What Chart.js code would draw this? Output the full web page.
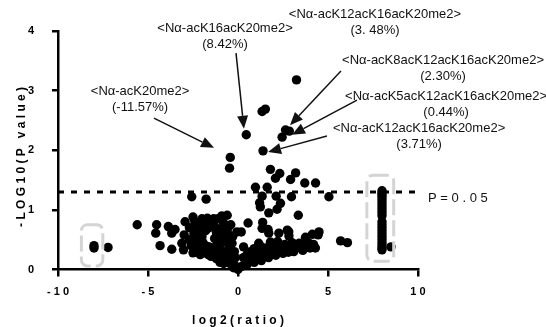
<!DOCTYPE html>
<html>
<head>
<meta charset="utf-8">
<script src="https://cdn.jsdelivr.net/npm/chart.js@4.4.1/dist/chart.umd.min.js"></script>
<style>
  html, body { margin: 0; padding: 0; background: #fff; }
  canvas { display: block; }
</style>
</head>
<body>
<canvas id="chart" width="546" height="327"></canvas>
<script>
// [log2(ratio), -log10(p)]
const significant = [
  [3.25, 3.18], [1.34, 2.65], [1.52, 2.69], [0.46, 2.26], [2.64, 2.34], [2.45, 2.22],
  [2.85, 2.32], [1.39, 1.99], [-0.43, 1.88], [-0.47, 1.70], [1.80, 1.68], [2.32, 1.61],
  [2.08, 1.53], [3.20, 1.62], [2.92, 1.51], [0.97, 1.38], [1.62, 1.38], [3.71, 1.45], [4.31, 1.45]
];
const nearCutoff = [
  [-2.57, 1.22], [-1.77, 1.18], [1.34, 1.23], [2.12, 1.23], [2.97, 1.22], [5.05, 1.22],
  [1.24, 1.05], [1.20, 1.12], [1.71, 0.95], [2.17, 1.01], [2.36, 1.11], [3.35, 0.91]
];
const leftScatter = [
  [-8.0, 0.40], [-8.0, 0.36], [-7.22, 0.37], [-5.6, 0.75], [-4.52, 0.75], [-4.57, 0.61],
  [-4.33, 0.40], [-3.87, 0.72], [-3.5, 0.67], [-3.68, 0.61], [-3.68, 0.34], [-3.12, 0.44],
  [-3.03, 0.33], [-2.94, 0.80], [-2.99, 0.58]
];
const leftCluster = [
  [-2.5, 0.88], [-2.4, 0.80], [-2.3, 0.70], [-2.45, 0.60], [-2.3, 0.50], [-2.4, 0.42], [-2.35, 0.33], [-2.5, 0.28],
  [-2.0, 0.85], [-1.9, 0.75], [-2.1, 0.65], [-2.0, 0.55], [-1.95, 0.45], [-2.05, 0.35], [-1.9, 0.28],
  [-1.7, 0.86], [-1.5, 0.80], [-1.6, 0.70], [-1.3, 0.72], [-1.2, 0.62], [-1.6, 0.38], [-1.4, 0.30],
  [-1.5, 0.22], [-1.2, 0.40], [-1.1, 0.85], [-0.9, 0.90], [-0.8, 0.78], [-1.0, 0.68], [-0.7, 0.55],
  [-0.9, 0.45], [-1.0, 0.33], [-0.8, 0.25], [-1.1, 0.20], [-0.6, 0.91], [-0.06, 0.63], [-0.6, 0.48],
  [-0.5, 0.38], [-0.7, 0.30], [-0.4, 0.25], [-0.6, 0.18], [-0.3, 0.15], [-0.45, 0.10], [-0.2, 0.08],
  [-0.1, 0.04], [0.0, 0.0], [-0.25, 0.03], [-0.33, 0.44],
  [-2.2, 0.78], [-2.2, 0.60], [-2.2, 0.40], [-1.8, 0.65], [-1.8, 0.40], [-1.8, 0.32], [-1.3, 0.52],
  [-1.1, 0.55], [-1.3, 0.25], [-1.35, 0.85], [-0.75, 0.65], [-0.5, 0.58], [-0.4, 0.75], [-0.3, 0.55],
  [-0.2, 0.30], [-0.15, 0.20], [-1.0, 0.12], [-0.8, 0.10], [-2.7, 0.70], [-2.7, 0.50], [-2.6, 0.40],
  [-1.65, 0.25], [-1.2, 0.18], [-0.55, 0.70], [-2.1, 0.25]
];
const rightMiddle = [
  [0.56, 0.78], [1.37, 0.79], [0.18, 0.63], [1.34, 0.69], [1.67, 0.67], [1.71, 0.61], [2.27, 0.61],
  [2.82, 0.63], [2.74, 0.66], [2.83, 0.56], [3.75, 0.54], [4.13, 0.59], [4.5, 0.63], [4.45, 0.58],
  [5.7, 0.48], [6.08, 0.45], [0.31, 0.38], [1.15, 0.44]
];
const rightBand = [
  [0.2, 0.05], [0.4, 0.10], [0.6, 0.13], [0.8, 0.17], [1.0, 0.20], [1.2, 0.22], [1.4, 0.24],
  [1.6, 0.26], [1.8, 0.28], [2.0, 0.29], [2.3, 0.31], [2.6, 0.33], [2.9, 0.35], [3.2, 0.36],
  [3.5, 0.37], [3.8, 0.38], [4.0, 0.36], [0.3, 0.20], [0.5, 0.25], [0.7, 0.30], [0.9, 0.35],
  [1.1, 0.33], [1.3, 0.38], [1.6, 0.36], [2.0, 0.40], [2.3, 0.42], [2.6, 0.42], [3.0, 0.45], [3.4, 0.44],
  [0.5, 0.08], [0.9, 0.12], [1.3, 0.15], [1.7, 0.20], [2.1, 0.24], [2.5, 0.27], [2.8, 0.29],
  [3.1, 0.30], [3.6, 0.32], [4.3, 0.36], [4.2, 0.42], [1.8, 0.46], [2.2, 0.47], [3.7, 0.44], [3.9, 0.45]
];
const onlyInOne = [
  [8.0, 1.32], [8.0, 1.28], [8.0, 1.24], [8.0, 1.20], [8.0, 1.15], [8.0, 1.10], [8.0, 1.05],
  [8.0, 1.00], [8.0, 0.95], [8.0, 0.90], [8.0, 0.80], [8.0, 0.75], [8.0, 0.70], [8.0, 0.65],
  [8.0, 0.60], [8.0, 0.55], [8.0, 0.50], [8.0, 0.45], [8.0, 0.40], [8.0, 0.36], [8.0, 0.33], [8.5, 0.38]
];

const xTicks = [-10, -5, 0, 5, 10];
const yTicks = [0, 1, 2, 3, 4];
const cutoff = -Math.log10(0.05);
const cutoffText = 'P = 0 . 0 5';

// labels: text lines, centre of first line, arrow [from, to]
const labels = [
  { lines: ['<Nα-acK12acK16acK20me2>', '(3. 48%)'], at: [7.61, 4.285], arrow: null },
  { lines: ['<Nα-acK16acK20me2>', '(8.42%)'], at: [-0.72, 4.05], arrow: [[-0.11, 3.63], [0.33, 2.36]] },
  { lines: ['<Nα-acK20me2>', '(-11.57%)'], at: [-5.44, 2.99], arrow: [[-4.67, 2.54], [-1.33, 2.04]] },
  { lines: ['<Nα-acK8acK12acK16acK20me2>', '(2.30%)'], at: [11.39, 3.50], arrow: [[5.72, 3.33], [2.89, 2.42]] },
  { lines: ['<Nα-acK5acK12acK16acK20me2>', '(0.44%)'], at: [11.56, 2.91], arrow: [[6.61, 2.84], [3.0, 2.26]] },
  { lines: ['<Nα-acK12acK16acK20me2>', '(3.71%)'], at: [10.06, 2.37], arrow: [[4.94, 2.24], [1.67, 1.97]] }
];
// grey dashed boxes [xmin, xmax, ymin, ymax]
const boxes = [[-8.7, -7.51, 0.06, 0.75], [7.16, 8.65, 0.14, 1.58]];

const allPoints = [].concat(significant, nearCutoff, leftScatter, leftCluster, rightMiddle, rightBand, onlyInOne)
  .map(p => ({ x: p[0], y: p[1] }));

const spaced = v => String(v).split('').join(' ');

function roundRect(ctx, x, y, w, h, r) {
  ctx.beginPath();
  ctx.moveTo(x + r, y);
  ctx.arcTo(x + w, y, x + w, y + h, r);
  ctx.arcTo(x + w, y + h, x, y + h, r);
  ctx.arcTo(x, y + h, x, y, r);
  ctx.arcTo(x, y, x + w, y, r);
  ctx.closePath();
}

const overlay = {
  id: 'overlay',
  beforeDatasetsDraw(chart) {
    const { ctx, scales: { x, y } } = chart;
    ctx.save();
    ctx.strokeStyle = '#000';
    ctx.lineWidth = 3;
    ctx.setLineDash([6, 7]);
    ctx.beginPath();
    ctx.moveTo(x.getPixelForValue(-10), y.getPixelForValue(cutoff));
    ctx.lineTo(x.getPixelForValue(10), y.getPixelForValue(cutoff));
    ctx.stroke();
    ctx.setLineDash([]);
    ctx.fillStyle = '#111';
    ctx.font = '13px "Liberation Sans", Arial, sans-serif';
    ctx.textAlign = 'left';
    ctx.textBaseline = 'middle';
    ctx.fillText(cutoffText, x.getPixelForValue(10.56), y.getPixelForValue(1.2));
    ctx.restore();
  },
  afterDatasetsDraw(chart) {
    const { ctx, scales: { x, y } } = chart;
    ctx.save();
    // grey boxes
    ctx.strokeStyle = '#d4d4d4';
    ctx.lineWidth = 3;
    ctx.setLineDash([16, 5]);
    boxes.forEach(b => {
      const x0 = x.getPixelForValue(b[0]), x1 = x.getPixelForValue(b[1]);
      const y0 = y.getPixelForValue(b[3]), y1 = y.getPixelForValue(b[2]);
      roundRect(ctx, x0, y0, x1 - x0, y1 - y0, 6);
      ctx.stroke();
    });
    ctx.setLineDash([]);
    // labels and arrows
    ctx.fillStyle = '#111';
    ctx.strokeStyle = '#111';
    ctx.lineWidth = 1.5;
    ctx.font = '13px "Liberation Sans", Arial, sans-serif';
    ctx.textAlign = 'center';
    ctx.textBaseline = 'middle';
    labels.forEach(l => {
      const cx = x.getPixelForValue(l.at[0]);
      const cy = y.getPixelForValue(l.at[1]);
      l.lines.forEach((t, i) => ctx.fillText(t, cx, cy + i * 16));
      if (!l.arrow) return;
      const ax = x.getPixelForValue(l.arrow[0][0]), ay = y.getPixelForValue(l.arrow[0][1]);
      const bx = x.getPixelForValue(l.arrow[1][0]), by = y.getPixelForValue(l.arrow[1][1]);
      const ang = Math.atan2(by - ay, bx - ax);
      const len = 13, half = 5.5;
      const hx = bx - len * Math.cos(ang), hy = by - len * Math.sin(ang);
      ctx.beginPath();
      ctx.moveTo(ax, ay);
      ctx.lineTo(hx, hy);
      ctx.stroke();
      ctx.beginPath();
      ctx.moveTo(bx, by);
      ctx.lineTo(hx + half * Math.sin(ang), hy - half * Math.cos(ang));
      ctx.lineTo(hx - half * Math.sin(ang), hy + half * Math.cos(ang));
      ctx.closePath();
      ctx.fill();
    });
    ctx.restore();
  }
};

const tickFont = { family: '"Liberation Sans", Arial, sans-serif', size: 11, weight: 'bold' };
const titleFont = { family: '"Liberation Sans", Arial, sans-serif', size: 12, weight: 'bold', lineHeight: 1 };

new Chart(document.getElementById('chart'), {
  type: 'scatter',
  data: {
    datasets: [{
      data: allPoints,
      pointRadius: 4.7,
      pointHoverRadius: 4.7,
      backgroundColor: '#000',
      borderWidth: 0,
      clip: false
    }]
  },
  options: {
    responsive: false,
    animation: false,
    layout: { padding: { top: 31, right: 128, left: 0, bottom: 0 } },
    plugins: { legend: { display: false }, tooltip: { enabled: false } },
    scales: {
      x: {
        type: 'linear',
        min: -10,
        max: 10,
        afterBuildTicks: s => { s.ticks = xTicks.map(v => ({ value: v })); },
        ticks: { callback: v => spaced(v), font: tickFont, color: '#000', padding: 9, maxRotation: 0 },
        grid: { drawOnChartArea: false, tickLength: 7, color: '#000', lineWidth: 2.5 },
        border: { color: '#000', width: 2.5 },
        title: { display: true, text: 'l o g 2 ( r a t i o )', font: titleFont, color: '#000', padding: { top: 0, bottom: 0 } },
        afterFit: s => { s.height = 57.5; }
      },
      y: {
        type: 'linear',
        min: 0,
        max: 4,
        afterBuildTicks: s => { s.ticks = yTicks.map(v => ({ value: v })); },
        ticks: { callback: v => spaced(v), font: tickFont, color: '#000', padding: 18 },
        grid: { drawOnChartArea: false, tickLength: 6, color: '#000', lineWidth: 2.5 },
        border: { color: '#000', width: 2.5 },
        title: { display: true, text: '- L O G 1 0 ( P   v a l u e )    ', font: titleFont, color: '#000', padding: { top: 16, bottom: 0 } },
        afterFit: s => { s.width = 58; }
      }
    }
  },
  plugins: [overlay]
});
</script>
</body>
</html>
